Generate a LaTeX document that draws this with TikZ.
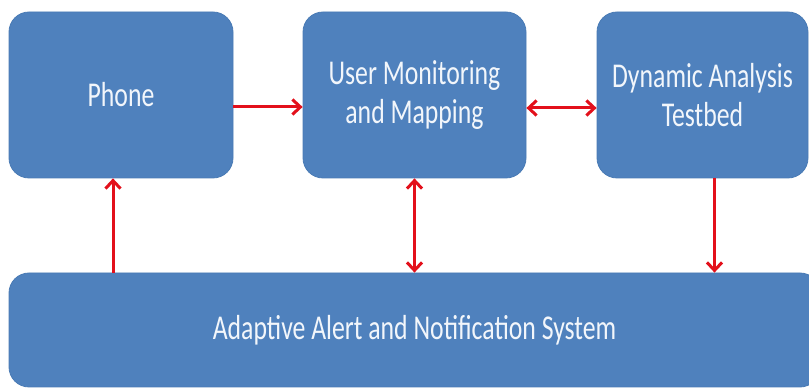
\documentclass[tikz,border=0pt]{standalone}
\usepackage{fontspec}
\setmainfont{Carlito}[FakeStretch=0.74]
\usetikzlibrary{arrows.meta}
\definecolor{boxblue}{HTML}{4F81BD}
\definecolor{boxedge}{HTML}{4A7BB5}
\definecolor{boxtext}{HTML}{F2F6FB}
\definecolor{arrred}{HTML}{E3101B}
\tikzset{
  blk/.style={draw=boxedge, line width=0.8pt, fill=boxblue, rounded corners=20pt,
    text=boxtext, align=center, inner sep=0pt,
    font=\fontsize{34.8pt}{39pt}\selectfont},
  tip/.style={Straight Barb[length=8pt,width=15pt,line width=3pt]},
  arr/.style={draw=arrred, line width=3pt, -{Straight Barb[length=8pt,width=15pt,line width=3pt]}},
  arrb/.style={draw=arrred, line width=3pt,
    {Straight Barb[length=8pt,width=15pt,line width=3pt]}-{Straight Barb[length=8pt,width=15pt,line width=3pt]}}
}
\begin{document}
\begin{tikzpicture}[x=1pt,y=1pt]
\useasboundingbox (0,0) rectangle (809,388);
\clip (0,0) rectangle (809,388);
\fill[white] (0,0) rectangle (809,388);
% y coordinates: 388 - pixel row
\node[blk, minimum width=224pt, minimum height=166pt] (phone) at (121,293) {Phone};
\node[blk, minimum width=223pt, minimum height=166pt] (umm) at (414.5,293) {User Monitoring\\and Mapping};
\node[blk, minimum width=211pt, minimum height=166pt] (dat) at (702.5,293) {Dynamic Analysis\\Testbed};
\node[blk, minimum width=811pt, minimum height=114pt] (bot) at (414.5,58) {Adaptive Alert and Notification System};
% connectors
\draw[arr] ([yshift=-12pt]phone.east) -- ([yshift=-12pt]phone.east -| umm.west);
\draw[arrb] ([yshift=-13pt]umm.east) -- ([yshift=-13pt]umm.east -| dat.west);
\draw[arr] ([xshift=-8pt]phone.south |- bot.north) -- ([xshift=-8pt]phone.south);
\draw[arrb] (umm.south) -- (umm.south |- bot.north);
\draw[arr] ([xshift=12pt]dat.south) -- ([xshift=12pt]dat.south |- bot.north);
\end{tikzpicture}
\end{document}
